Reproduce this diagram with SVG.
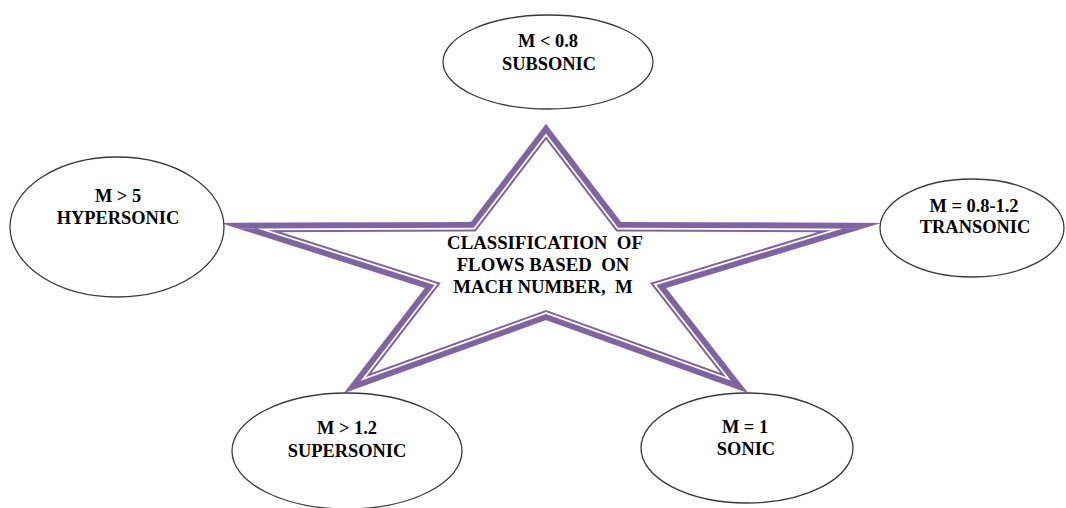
<svg xmlns="http://www.w3.org/2000/svg" width="1066" height="508" viewBox="0 0 1066 508">
<style>
.node ellipse{fill:#fff;stroke:#3a3a3a;stroke-width:1.3}
.t{font-family:"Liberation Serif","Times New Roman","DejaVu Serif",serif;font-weight:bold;font-size:18.4px;fill:#000;text-anchor:middle;white-space:pre}
.c{font-size:18.8px}
.s{fill:none;stroke-linejoin:miter;stroke-miterlimit:10}
</style>
<defs>
<path id="star" d="M546,124 L621,222 L881,223 L666,288 L748,393 L546,320 L344,393 L425,288 L221,223 L471,222 Z"/>
<clipPath id="starClip"><use href="#star"/></clipPath>
</defs>
<rect width="1066" height="508" fill="#fff"/>
<g id="star-center">
<use href="#star" fill="#fff"/>
<g clip-path="url(#starClip)">
<use href="#star" class="s" stroke="#8064A2" stroke-width="19"/>
<use href="#star" class="s" stroke="#fff" stroke-width="15"/>
<use href="#star" class="s" stroke="#8064A2" stroke-width="11.5"/>
</g>
<text class="t c" x="545" y="249">CLASSIFICATION  OF</text>
<text class="t c" x="543" y="271">FLOWS BASED  ON</text>
<text class="t c" x="543" y="293">MACH NUMBER,  M</text>
</g>
<g id="connectors"></g>
<g id="subsonic" class="node">
<ellipse cx="548" cy="62" rx="105" ry="47"/>
<text class="t" x="548" y="47">M &lt; 0.8</text>
<text class="t" x="549" y="70">SUBSONIC</text>
</g>
<g id="hypersonic" class="node">
<ellipse cx="117" cy="227" rx="107" ry="70"/>
<text class="t" x="118" y="202">M &gt; 5</text>
<text class="t" x="118" y="224">HYPERSONIC</text>
</g>
<g id="transonic" class="node">
<ellipse cx="972" cy="228" rx="92" ry="49"/>
<text class="t" x="974" y="212">M = 0.8-1.2</text>
<text class="t" x="975" y="233">TRANSONIC</text>
</g>
<g id="supersonic" class="node">
<ellipse cx="347" cy="451" rx="115" ry="58"/>
<text class="t" x="347" y="434">M &gt; 1.2</text>
<text class="t" x="347" y="457">SUPERSONIC</text>
</g>
<g id="sonic" class="node">
<ellipse cx="747" cy="448" rx="106" ry="55"/>
<text class="t" x="745" y="433">M = 1</text>
<text class="t" x="746" y="455">SONIC</text>
</g>
</svg>
